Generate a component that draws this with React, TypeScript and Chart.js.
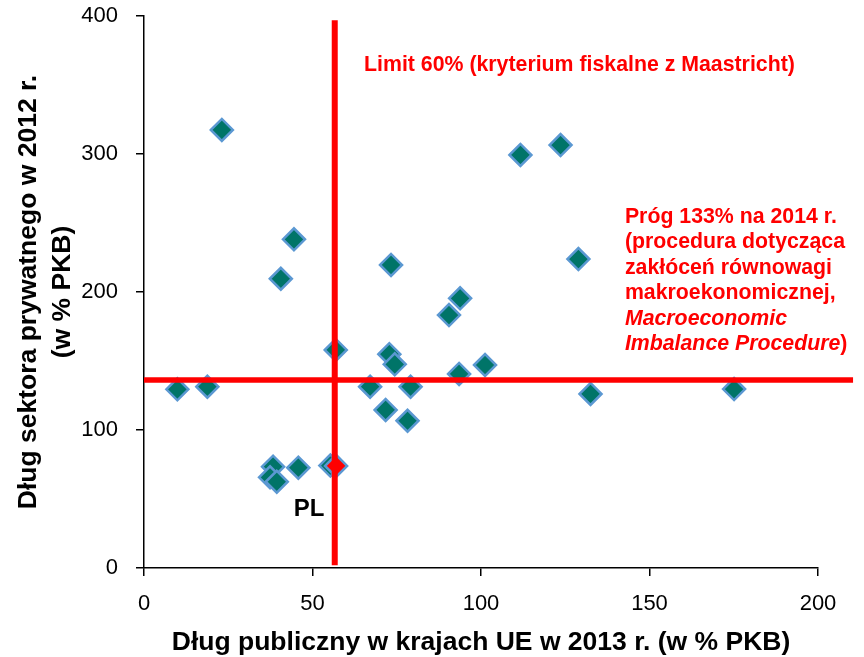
import React, { useEffect, useRef } from 'react';
import { Chart, registerables } from 'chart.js';

Chart.register(...registerables);

// ---- Data ----
// Public debt 2013 (% GDP) and private sector debt 2012 (% GDP) for EU countries
const publicDebt = [23.1, 111.7, 123.6, 44.5, 40.6, 73.3, 128.9, 93.8, 90.5, 56.9, 72.8, 74.4, 101.2, 93.5, 9.9, 18.8, 67.1, 79.1, 132.5, 175.1, 71.7, 78.2, 38.3, 45.8, 37.4, 39.4, 55.3];
const privateDebt = [317.4, 299.3, 306.5, 238.2, 209.6, 219.6, 223.9, 195.4, 183.3, 158.0, 154.9, 147.6, 147.1, 140.6, 129.5, 131.4, 131.4, 131.4, 126.1, 129.7, 114.5, 106.7, 73.4, 72.7, 65.7, 62.5, 74.2];

// Poland
const plPublic = [57.0];
const plPrivate = [74.0];

// Reference lines
const limitLineX = [56.6, 56.6];
const limitLineY = [2, 397];
const thresholdLineX = [0, 210.4];
const thresholdLineY = [136.2, 136.2];

// Axes
const xTicks = [0, 50, 100, 150, 200];
const yTicks = [0, 100, 200, 300, 400];
const xTitle = 'Dług publiczny w krajach UE w 2013 r. (w % PKB)';
const yTitle = ['Dług sektora prywatnego w 2012 r.', '(w % PKB)'];

// Annotation texts
const limitText = 'Limit 60% (kryterium fiskalne z Maastricht)';
const thresholdText = [
  [{ text: 'Próg 133% na 2014 r.', italic: false }],
  [{ text: '(procedura dotycząca', italic: false }],
  [{ text: 'zakłóceń równowagi', italic: false }],
  [{ text: 'makroekonomicznej,', italic: false }],
  [{ text: 'Macroeconomic', italic: true }],
  [{ text: 'Imbalance Procedure', italic: true }, { text: ')', italic: false }],
];
const plText = 'PL';

// Annotation anchors (in data units)
const limitAnchor = { x: 65.3, y: 360.4 };
const thresholdAnchor = { x: 142.7, y: 250.2 };
const plAnchor = { x: 49.0, y: 42.8 };

const FONT = '"Liberation Sans", Arial, Helvetica, sans-serif';
const RED = '#FF0000';
const TEAL = 'rgb(0,116,104)';
const BLUE = 'rgb(91,152,210)';

const annotationPlugin = {
  id: 'textAnnotations',
  afterDatasetsDraw(chart: any) {
    const { ctx, scales } = chart;
    const xs = scales.x;
    const ys = scales.y;
    ctx.save();
    ctx.fillStyle = RED;
    ctx.textAlign = 'left';
    ctx.textBaseline = 'alphabetic';
    ctx.font = `bold 21.3px ${FONT}`;
    ctx.fillText(limitText, xs.getPixelForValue(limitAnchor.x), ys.getPixelForValue(limitAnchor.y));

    const bx = xs.getPixelForValue(thresholdAnchor.x);
    let by = ys.getPixelForValue(thresholdAnchor.y);
    thresholdText.forEach((line) => {
      let cx = bx;
      line.forEach((seg) => {
        ctx.font = `${seg.italic ? 'italic ' : ''}bold 21.3px ${FONT}`;
        ctx.fillText(seg.text, cx, by);
        cx += ctx.measureText(seg.text).width;
      });
      by += 25.5;
    });

    ctx.fillStyle = '#000';
    ctx.font = `bold 24px ${FONT}`;
    ctx.textAlign = 'center';
    ctx.textBaseline = 'middle';
    ctx.fillText(plText, xs.getPixelForValue(plAnchor.x), ys.getPixelForValue(plAnchor.y));
    ctx.restore();
  },
};

export default function App() {
  const canvasRef = useRef<HTMLCanvasElement | null>(null);

  useEffect(() => {
    if (!canvasRef.current) return;
    const chart = new Chart(canvasRef.current, {
      type: 'scatter',
      data: {
        datasets: [
          {
            type: 'line',
            label: 'threshold',
            data: thresholdLineX.map((x, i) => ({ x, y: thresholdLineY[i] })),
            borderColor: RED,
            borderWidth: 5.5,
            pointRadius: 0,
            showLine: true,
            fill: false,
            clip: false,
            order: 1,
          } as any,
          {
            type: 'line',
            label: 'limit',
            data: limitLineX.map((x, i) => ({ x, y: limitLineY[i] })),
            borderColor: RED,
            borderWidth: 6,
            pointRadius: 0,
            showLine: true,
            fill: false,
            clip: false,
            order: 1,
          } as any,
          {
            label: 'PL',
            data: plPublic.map((x, i) => ({ x, y: plPrivate[i] })),
            pointStyle: 'rectRot',
            pointRadius: 11,
            backgroundColor: RED,
            borderColor: BLUE,
            borderWidth: 2.5,
            order: 2,
          },
          {
            label: 'EU',
            data: publicDebt.map((x, i) => ({ x, y: privateDebt[i] })),
            pointStyle: 'rectRot',
            pointRadius: 11,
            backgroundColor: TEAL,
            borderColor: BLUE,
            borderWidth: 2.5,
            order: 3,
          },
        ],
      },
      options: {
        animation: false,
        responsive: false,
        devicePixelRatio: 1,
        layout: { padding: { top: 16, right: 46, left: 0, bottom: 0 } },
        plugins: {
          legend: { display: false },
          tooltip: { enabled: false },
        },
        scales: {
          x: {
            type: 'linear',
            min: 0,
            max: 200,
            afterBuildTicks: (s: any) => {
              s.ticks = xTicks.map((v) => ({ value: v }));
            },
            afterFit: (s: any) => {
              s.height = 89;
              s.paddingLeft = 0;
              s.paddingRight = 0;
            },
            ticks: {
              font: { family: FONT, size: 22 },
              color: '#000',
              padding: 15,
              maxRotation: 0,
            },
            grid: {
              drawOnChartArea: false,
              drawTicks: true,
              tickLength: 8,
              color: '#000',
              lineWidth: 1.5,
            },
            border: { display: true, color: '#000', width: 1.5 },
            title: {
              display: true,
              text: xTitle,
              color: '#000',
              font: { family: FONT, size: 26.5, weight: 'bold', lineHeight: 1 },
              padding: { top: 0, bottom: 1 },
            },
          },
          y: {
            type: 'linear',
            min: 0,
            max: 400,
            afterBuildTicks: (s: any) => {
              s.ticks = yTicks.map((v) => ({ value: v }));
            },
            afterFit: (s: any) => {
              s.width = 144;
              s.paddingTop = 0;
              s.paddingBottom = 0;
            },
            ticks: {
              font: { family: FONT, size: 22 },
              color: '#000',
              padding: 18,
            },
            grid: {
              drawOnChartArea: false,
              drawTicks: true,
              tickLength: 8,
              color: '#000',
              lineWidth: 1.5,
            },
            border: { display: true, color: '#000', width: 1.5 },
            title: {
              display: true,
              text: yTitle,
              color: '#000',
              font: { family: FONT, size: 26.5, weight: 'bold', lineHeight: 1.3 },
              padding: { top: 11, bottom: 0 },
            },
          },
        },
      } as any,
      plugins: [annotationPlugin],
    });
    return () => chart.destroy();
  }, []);

  return (
    <div style={{ position: 'absolute', left: 0, top: 0, width: 864, height: 657, background: '#fff' }}>
      <canvas ref={canvasRef} width={864} height={657} style={{ display: 'block', width: 864, height: 657 }} />
    </div>
  );
}
